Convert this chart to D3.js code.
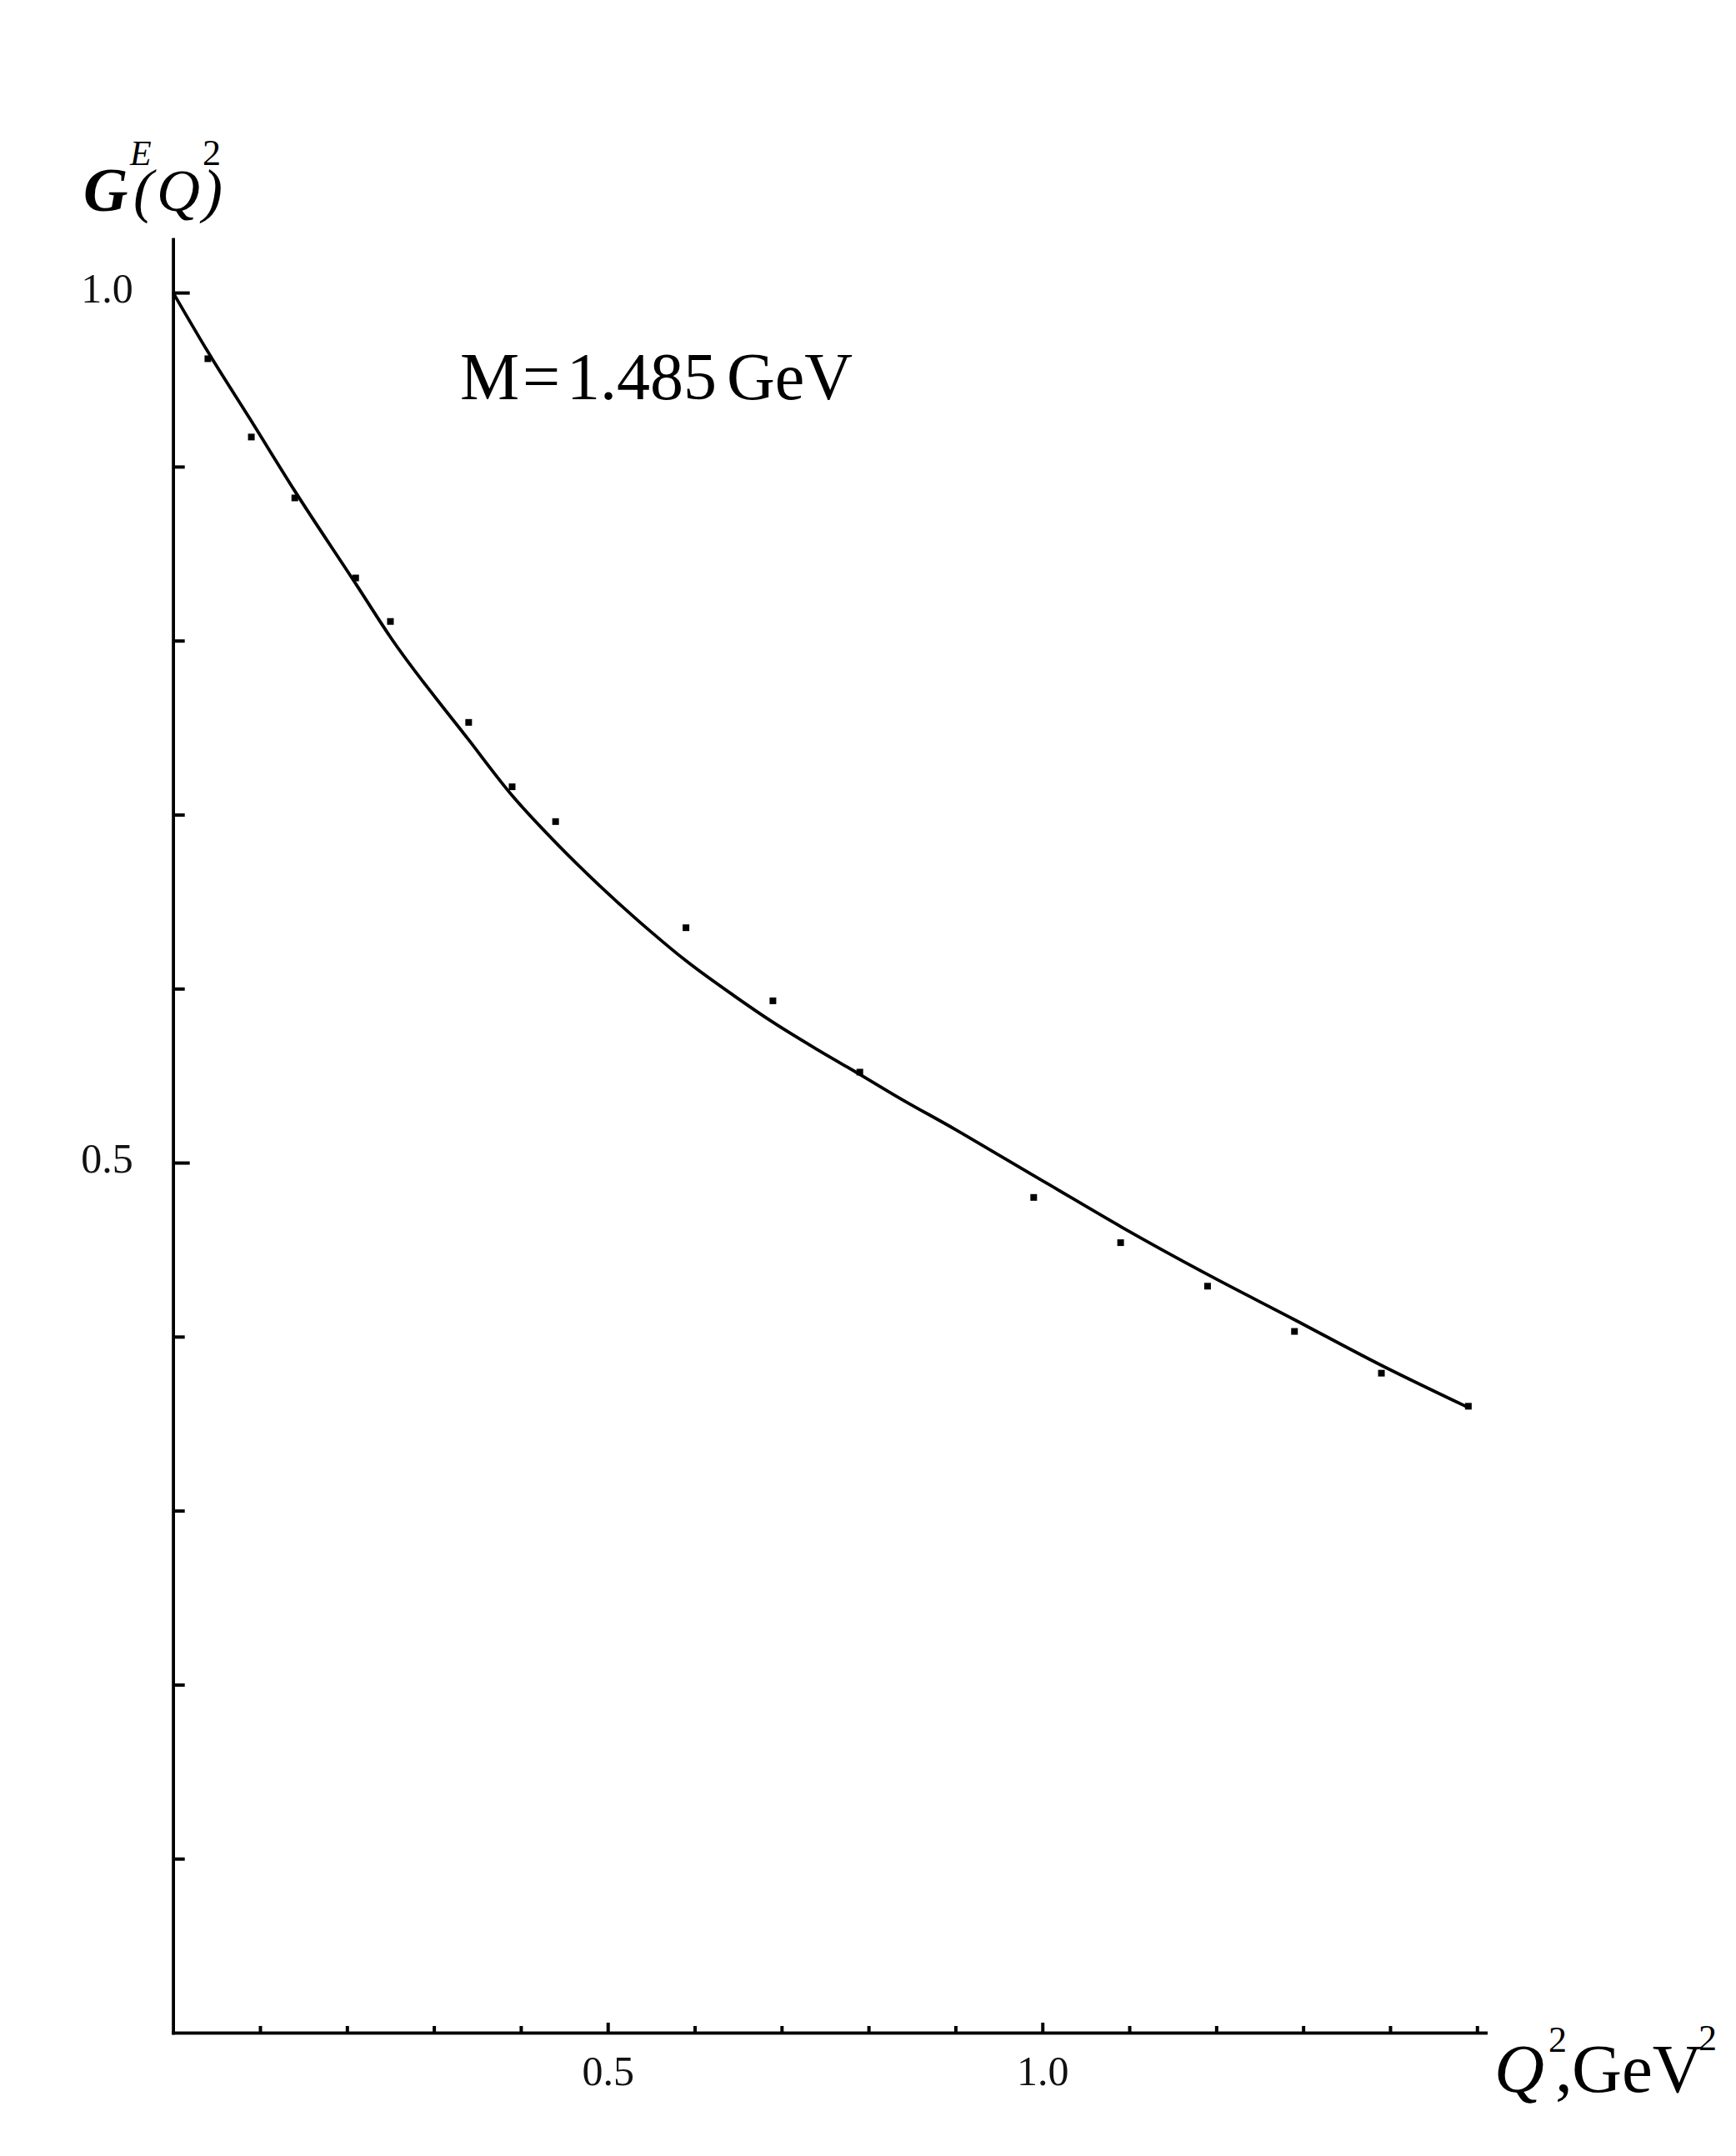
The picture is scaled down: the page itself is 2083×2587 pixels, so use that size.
<!DOCTYPE html>
<html>
<head>
<meta charset="utf-8">
<script src="https://cdn.jsdelivr.net/npm/d3@7"></script>
<style>
    body { margin: 0; background: #fff; }
</style>
</head>
<body>
<script>
    //Data
        const pointQ2 = [0.04, 0.09, 0.14, 0.21, 0.25, 0.34, 0.39, 0.44, 0.59, 0.69, 0.79, 0.99, 1.09, 1.19, 1.29, 1.39, 1.49];
        const pointGE = [0.962, 0.917, 0.882, 0.836, 0.811, 0.753, 0.716, 0.696, 0.635, 0.593, 0.552, 0.480, 0.454, 0.429, 0.403, 0.379, 0.360];

        const curveQ2 = [0, 0.04, 0.089, 0.14, 0.211, 0.25, 0.34, 0.39, 0.44, 0.491, 0.549, 0.59, 0.645, 0.689, 0.741, 0.789, 0.836, 0.90, 0.951, 1.009, 1.091, 1.189, 1.289, 1.388, 1.489];
        const curveGE = [1.0, 0.966, 0.927, 0.886, 0.832, 0.802, 0.743, 0.711, 0.684, 0.659, 0.633, 0.616, 0.596, 0.581, 0.565, 0.551, 0.537, 0.519, 0.504, 0.487, 0.463, 0.436, 0.410, 0.384, 0.3595];

        const xMajorTicks = [0.5, 1.0];
        const xMinorTicks = [0.1, 0.2, 0.3, 0.4, 0.6, 0.7, 0.8, 0.9, 1.1, 1.2, 1.3, 1.4, 1.5];
        const yMajorTicks = [0.5, 1.0];
        const yMinorTicks = [0.1, 0.2, 0.3, 0.4, 0.6, 0.7, 0.8, 0.9];
        const tickLabel = d3.format(".1f");


    //Set up dimensions
        const width = 2083;
        const height = 2587;
        const plotLeft = 207.7;
        const plotRight = 1782.7;
        const plotTop = 287;
        const plotBottom = 2439;
        const serif = "'Liberation Serif', 'Times New Roman', serif";


    //Set up scales
        const xScale = d3.scaleLinear()
                        .domain([0, 1.51])
                        .range([plotLeft, plotRight]);

        const yScale = d3.scaleLinear()
                        .domain([0, 1.0307])
                        .range([plotBottom, plotTop]);


    //Make the SVG
        const svg = d3.select("body")
                    .append("svg")
                    .attr("width", width)
                    .attr("height", height)
                    .style("background", "#fff");


    //Set up axes
        const xMinorAxis = d3.axisBottom(xScale)
                             .tickValues(xMinorTicks)
                             .tickSizeInner(-8)
                             .tickSizeOuter(0)
                             .tickFormat("");

        const xMajorAxis = d3.axisBottom(xScale)
                             .tickValues(xMajorTicks)
                             .tickSizeInner(-12)
                             .tickSizeOuter(0)
                             .tickPadding(27)
                             .tickFormat(tickLabel);

        const yMinorAxis = d3.axisLeft(yScale)
                             .tickValues(yMinorTicks)
                             .tickSizeInner(-14)
                             .tickSizeOuter(0)
                             .tickFormat("");

        const yMajorAxis = d3.axisLeft(yScale)
                             .tickValues(yMajorTicks)
                             .tickSizeInner(-20)
                             .tickSizeOuter(0)
                             .tickPadding(48)
                             .tickFormat(tickLabel);


    //Add axes to SVG
        [xMinorAxis, xMajorAxis].forEach(axis => {
            svg.append("g")
                .attr("transform", "translate(0," + plotBottom + ")")
                .call(axis);
        });

        [yMinorAxis, yMajorAxis].forEach(axis => {
            svg.append("g")
                .attr("transform", "translate(" + plotLeft + ",0)")
                .call(axis);
        });

        svg.selectAll(".domain")
            .attr("stroke", "#000")
            .attr("stroke-width", 3.5)
            .attr("stroke-linecap", "square");

        svg.selectAll(".tick line")
            .attr("stroke", "#000")
            .attr("stroke-width", 4);

        svg.selectAll(".tick text")
            .attr("font-family", serif)
            .attr("font-size", 50)
            .attr("fill", "#111");

        svg.selectAll(".tick text")
            .filter(function() { return this.getAttribute("dy") === "0.32em"; })
            .attr("dy", "0.22em");


    //Draw the curve
        const line = d3.line()
                       .x((d, i) => xScale(curveQ2[i]))
                       .y(d => yScale(d))
                       .curve(d3.curveMonotoneX);

        svg.append("path")
            .datum(curveGE)
            .attr("d", line)
            .attr("fill", "none")
            .attr("stroke", "#000")
            .attr("stroke-width", 3.8);


    //Draw the points
        svg.selectAll("rect.point")
            .data(pointGE)
            .enter()
            .append("rect")
            .attr("class", "point")
            .attr("x", (d, i) => xScale(pointQ2[i]) - 4)
            .attr("y", d => yScale(d) - 4)
            .attr("width", 8)
            .attr("height", 8)
            .attr("fill", "#000");


    //Axis titles
        const yTitle = svg.append("text")
                          .attr("font-family", serif)
                          .attr("fill", "#000");

        yTitle.append("tspan").attr("x", 100).attr("y", 253)
              .attr("font-size", 74).attr("font-weight", "bold").attr("font-style", "italic").text("G");
        yTitle.append("tspan").attr("x", 156).attr("y", 198)
              .attr("font-size", 42).attr("font-style", "italic").text("E");
        yTitle.append("tspan").attr("x", 160).attr("y", 253)
              .attr("font-size", 72).attr("font-style", "italic").text("(");
        yTitle.append("tspan").attr("x", 188).attr("y", 253)
              .attr("font-size", 72).attr("font-style", "italic").text("Q");
        yTitle.append("tspan").attr("x", 243).attr("y", 198)
              .attr("font-size", 44).text("2");
        yTitle.append("tspan").attr("x", 243).attr("y", 253)
              .attr("font-size", 72).attr("font-style", "italic").text(")");

        const xTitle = svg.append("text")
                          .attr("font-family", serif)
                          .attr("fill", "#000");

        xTitle.append("tspan").attr("x", 1793).attr("y", 2510)
              .attr("font-size", 83).attr("font-style", "italic").text("Q");
        xTitle.append("tspan").attr("x", 1858).attr("y", 2462)
              .attr("font-size", 44).text("2");
        xTitle.append("tspan").attr("x", 1866).attr("y", 2510)
              .attr("font-size", 83).text(",");
        xTitle.append("tspan").attr("x", 1886).attr("y", 2510)
              .attr("font-size", 83).text("GeV");
        xTitle.append("tspan").attr("x", 2038).attr("y", 2460)
              .attr("font-size", 44).text("2");


    //Mass label
        const massLabel = svg.append("text")
                             .attr("font-family", serif)
                             .attr("font-size", 80)
                             .attr("fill", "#000");

        massLabel.append("tspan").attr("x", 552).attr("y", 479).text("M");
        massLabel.append("tspan").attr("x", 627).attr("y", 479).text("=");
        massLabel.append("tspan").attr("x", 680).attr("y", 479).text("1.485");
        massLabel.append("tspan").attr("x", 872).attr("y", 479).text("GeV");
</script>
</body>
</html>
